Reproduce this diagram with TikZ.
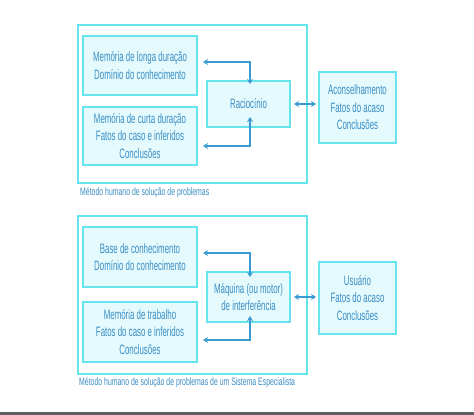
\documentclass[tikz,border=0pt]{standalone}
\usepackage{fontspec}
\setmainfont[FakeStretch=0.58]{Liberation Sans}
\newfontfamily\captfont[FakeStretch=0.64]{Liberation Sans}
\usetikzlibrary{arrows.meta}
\definecolor{bordc}{HTML}{66E4EE}
\definecolor{fillc}{HTML}{E4FAFD}
\definecolor{txtc}{HTML}{3A8DC4}
\definecolor{arrc}{HTML}{3A9AD2}
\definecolor{barc}{HTML}{606060}
\tikzset{
  x=1pt, y=-1pt,
  inbox/.style={draw=bordc, line width=2pt, fill=fillc, text=txtc, align=center,
    inner sep=0pt, font=\fontsize{13.6}{17.5}\selectfont},
  outbox/.style={draw=bordc, line width=1.5pt, inner sep=0pt},
  capt/.style={text=txtc, anchor=west, inner sep=0pt, font=\captfont\fontsize{10.8}{11}\selectfont},
  dconn/.style={draw=arrc, line width=1.8pt, {Stealth[length=5pt,width=6pt]}-{Stealth[length=5pt,width=6pt]}},
}
\begin{document}
\begin{tikzpicture}
\useasboundingbox (0,0) rectangle (474,415);
\fill[white] (0,0) rectangle (474,415);
\fill[barc] (0,412) rectangle (474,415);

% top diagram
\node[outbox, minimum width=229pt, minimum height=158pt] (o1) at (192.5,104) {};
\node[inbox, minimum width=114pt, minimum height=59pt] (b1) at (140,65.5) {Memória de longa duração\\Domínio do conhecimento};
\node[inbox, minimum width=114pt, minimum height=58pt] (b2) at (140,136) {Memória de curta duração\\Fatos do caso e inferidos\\Conclusões};
\node[inbox, minimum width=83pt, minimum height=46pt] (r) at (248.5,104) {Raciocínio};
\node[inbox, minimum width=77pt, minimum height=71pt] (a) at (357.5,107.5) {Aconselhamento\\Fatos do acaso\\Conclusões};
\node[capt] (c1) at (80,193) {Método humano de solução de problemas};

\coordinate (t1) at (250,62);
\coordinate (t2) at (250,146);
\draw[dconn] ([xshift=5pt]b1.east |- t1) -- (t1) -- ([yshift=-4pt]r.north -| t1);
\draw[dconn] ([xshift=5pt]b2.east |- t2) -- (t2) -- ([yshift=11pt]r.south -| t2);
\draw[dconn] ([xshift=3pt]r.east) -- ([xshift=-2pt]a.west |- r.east);

% bottom diagram
\node[outbox, minimum width=229pt, minimum height=158pt] (o2) at (192.5,295) {};
\node[inbox, minimum width=114pt, minimum height=60pt] (bb1) at (140,257) {Base de conhecimento\\Domínio do conhecimento};
\node[inbox, minimum width=114pt, minimum height=60pt] (bb2) at (140,332) {Memória de trabalho\\Fatos do caso e inferidos\\Conclusões};
\node[inbox, minimum width=83pt, minimum height=50pt] (m) at (248.5,297) {Máquina (ou motor)\\de interferência};
\node[inbox, minimum width=77pt, minimum height=72pt] (u) at (357.5,298) {Usuário\\Fatos do acaso\\Conclusões};
\node[capt] (c2) at (79,383) {Método humano de solução de problemas de um Sistema Especialista};

\coordinate (t3) at (250,253);
\coordinate (t4) at (250,340);
\draw[dconn] ([xshift=5pt]bb1.east |- t3) -- (t3) -- ([yshift=-6pt]m.north -| t3);
\draw[dconn] ([xshift=5pt]bb2.east |- t4) -- (t4) -- ([yshift=7pt]m.south -| t4);
\draw[dconn] ([xshift=3pt]m.east) -- ([xshift=-2pt]u.west |- m.east);
\end{tikzpicture}
\end{document}
